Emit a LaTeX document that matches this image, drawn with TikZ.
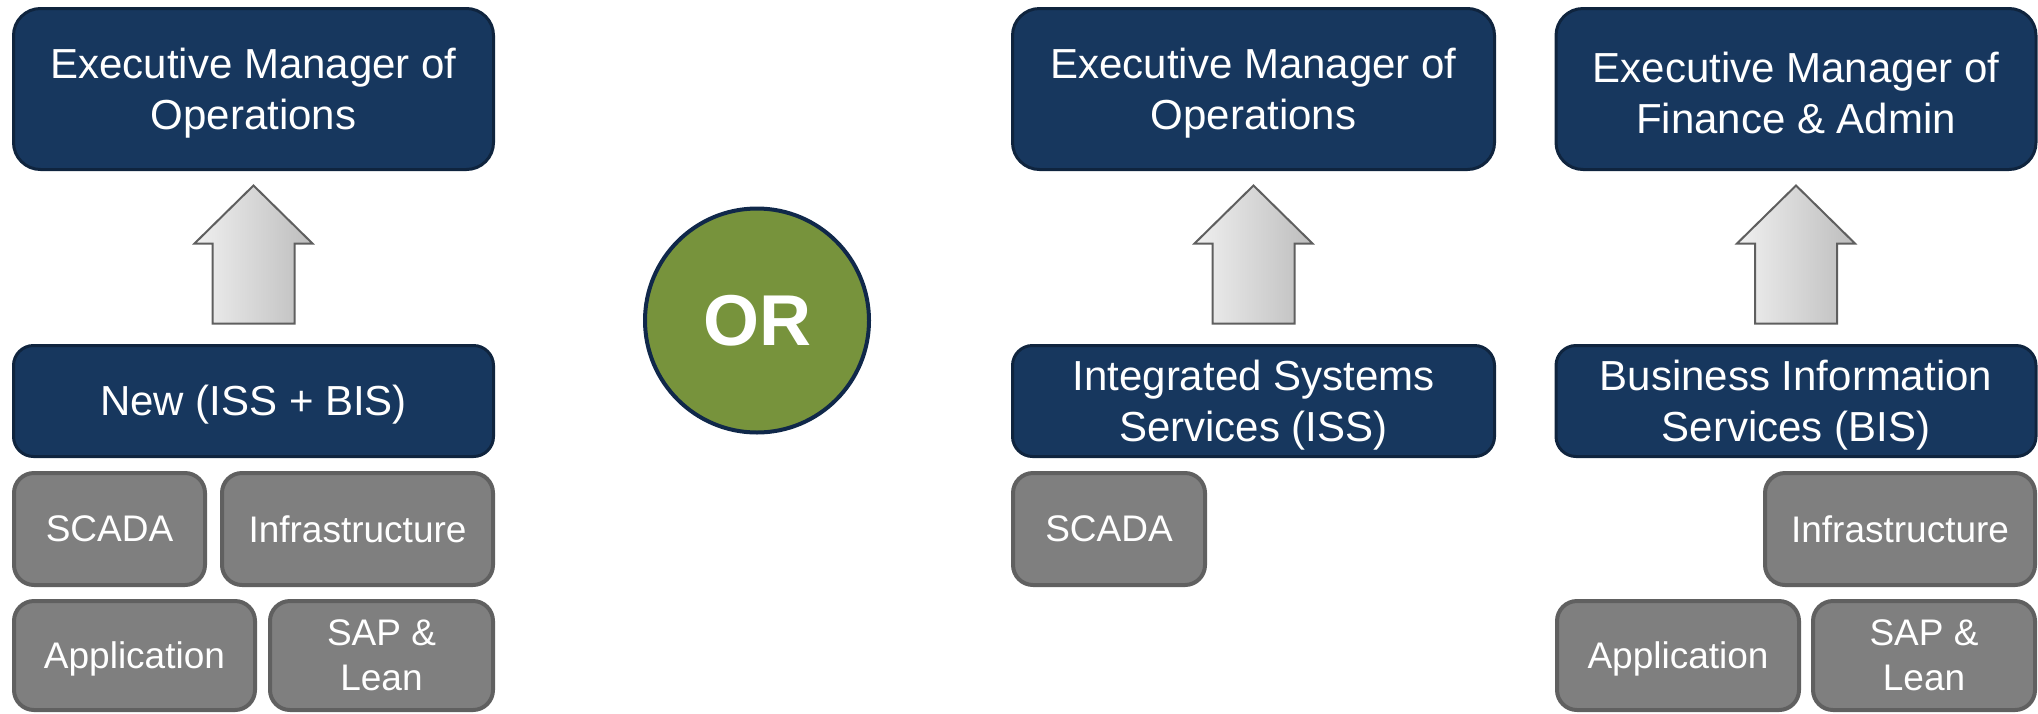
\documentclass[tikz,border=0pt]{standalone}
\usepackage{fontspec}
\setmainfont{Liberation Sans}
\usetikzlibrary{calc}
\definecolor{navyfill}{HTML}{17375E}
\definecolor{navyline}{HTML}{0F243E}
\definecolor{grayfill}{HTML}{7F7F7F}
\definecolor{grayline}{HTML}{606060}
\definecolor{orgreen}{HTML}{77933C}
\definecolor{orline}{HTML}{10284A}
\definecolor{arrowL}{HTML}{F0F0F0}
\definecolor{arrowR}{HTML}{BDBDBD}
\definecolor{arrowline}{HTML}{5F5F5F}
\newcommand\myblockarrow[1]{%
  \fill[black, opacity=0.15, shift={(2,4)}] (#1) -- ++(59,58) -- ++(-18,0) -- ++(0,80) -- ++(-82,0) -- ++(0,-80) -- ++(-18,0) -- cycle;
  \shadedraw[left color=arrowL, right color=arrowR, draw=arrowline, line width=1pt, line join=miter]
    (#1) -- ++(59,58) -- ++(-18,0) -- ++(0,80) -- ++(-82,0) -- ++(0,-80) -- ++(-18,0) -- cycle;
}
\begin{document}
\begin{tikzpicture}[x=0.5pt,y=-0.5pt,
  navybox/.style={draw=navyline, fill=navyfill, line width=1.5pt, inner sep=0pt},
  topbox/.style={navybox, minimum width=240pt, minimum height=80.5pt, rounded corners=13.5pt},
  midbox/.style={navybox, minimum width=240pt, minimum height=55.5pt, rounded corners=10pt},
  navytxt/.style={text=white, font=\fontsize{21}{25.5}\selectfont, align=center, inner sep=0pt, yshift=-2pt},
  graybox/.style={draw=grayline, fill=grayfill, line width=2pt, rounded corners=10pt, text=white,
     font=\fontsize{18.5}{22.5}\selectfont, align=center, inner sep=0pt},
  row1/.style={graybox, minimum height=56pt},
  row2/.style={graybox, minimum height=54.5pt},
  orcircle/.style={circle, draw=orline, fill=orgreen, line width=2pt, minimum size=112pt, inner sep=0pt,
     text=white, font=\fontsize{36}{40}\selectfont\bfseries}
]
\useasboundingbox (0,0) rectangle (2038,713);

% column 1
\node[topbox, label={[navytxt]center:{Executive Manager of\\Operations}}] (top1) at (253.5,89) {};
\node[midbox, label={[navytxt]center:{New (ISS + BIS)}}] (mid1) at (253.5,401) {};
\node[row1, minimum width=95.5pt] (scada1) at (109.5,529) {SCADA};
\node[row1, minimum width=135.5pt] (infra1) at (357.5,529) {Infrastructure};
\node[row2, minimum width=120.5pt, text depth=0pt] (app1) at (134.5,655.5) {Application};
\node[row2, minimum width=111.5pt] (sap1) at (381.5,655.5) {SAP \&\\Lean};
\coordinate (tip1) at ($(top1.south)+(0,14.5)$);
\myblockarrow{tip1}

% OR
\node[orcircle] (or) at (757,320.5) {OR};

% column 2
\node[topbox, minimum width=241pt, label={[navytxt]center:{Executive Manager of\\Operations}}] (top2) at (1253.5,89) {};
\node[midbox, minimum width=241pt, label={[navytxt]center:{Integrated Systems\\Services (ISS)}}] (mid2) at (1253.5,401) {};
\node[row1, minimum width=96pt] (scada2) at (1109,529) {SCADA};
\coordinate (tip2) at ($(top2.south)+(0,14.5)$);
\myblockarrow{tip2}

% column 3
\node[topbox, label={[navytxt]center:{Executive Manager of\\Finance \& Admin}}] (top3) at (1796,89) {};
\node[midbox, label={[navytxt]center:{Business Information\\Services (BIS)}}] (mid3) at (1796,401) {};
\node[row1, minimum width=135pt] (infra3) at (1900,529) {Infrastructure};
\node[row2, minimum width=121pt, text depth=0pt] (app3) at (1678,655.5) {Application};
\node[row2, minimum width=111pt] (sap3) at (1924,655.5) {SAP \&\\Lean};
\coordinate (tip3) at ($(top3.south)+(0,14.5)$);
\myblockarrow{tip3}
\end{tikzpicture}
\end{document}
